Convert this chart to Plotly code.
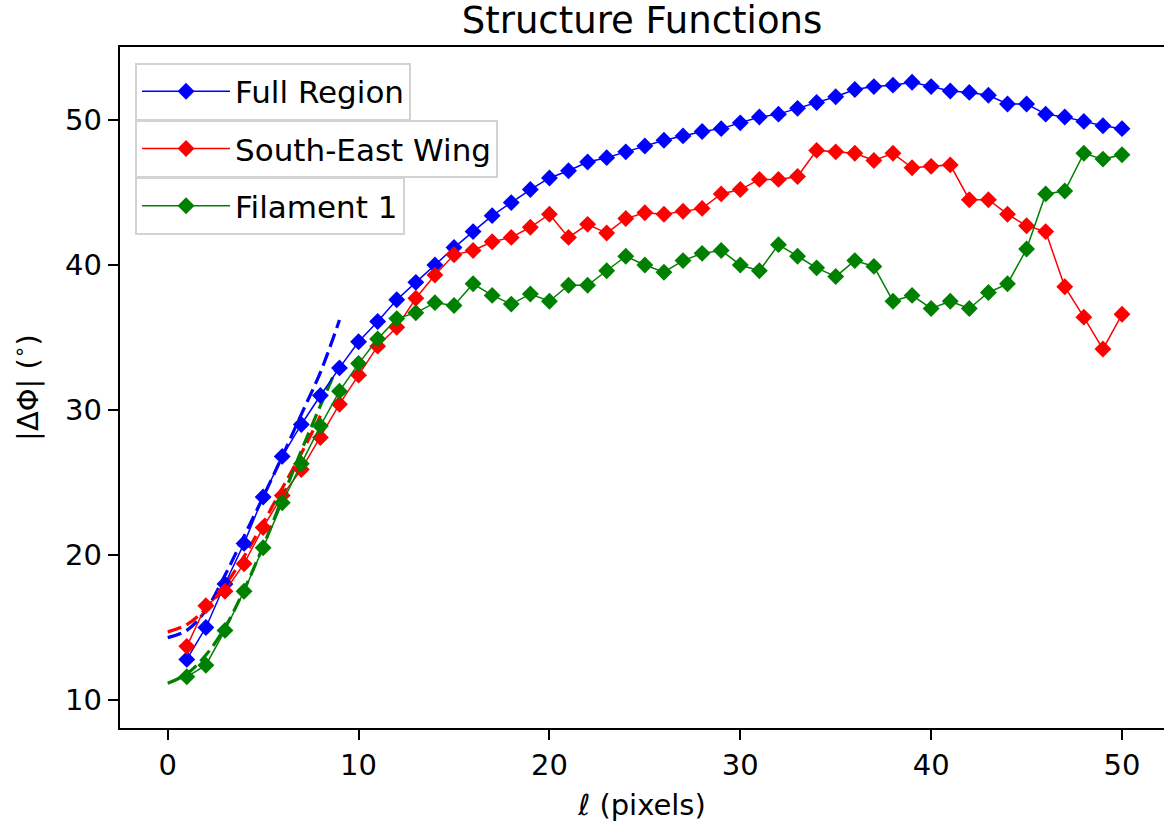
import plotly.graph_objects as go

# Lag values (pixels)
lags = list(range(1, 51))

full_region = [12.8, 15.0, 18.0, 20.8, 24.0, 26.8, 29.0, 31.0, 32.9, 34.7,
               36.1, 37.6, 38.8, 40.0, 41.2, 42.3, 43.4, 44.3, 45.2, 46.0,
               46.5, 47.1, 47.4, 47.8, 48.2, 48.6, 48.9, 49.2, 49.4, 49.8,
               50.2, 50.4, 50.8, 51.2, 51.6, 52.1, 52.3, 52.4, 52.6, 52.3,
               52.0, 51.9, 51.7, 51.1, 51.1, 50.4, 50.2, 49.9, 49.6, 49.4]

south_east_wing = [13.7, 16.5, 17.5, 19.4, 21.9, 24.1, 25.9, 28.1, 30.4, 32.4,
                   34.4, 35.7, 37.7, 39.3, 40.7, 41.0, 41.6, 41.9, 42.6, 43.5,
                   41.9, 42.8, 42.2, 43.2, 43.6, 43.5, 43.7, 43.9, 44.9, 45.2,
                   45.9, 45.9, 46.1, 47.9, 47.8, 47.7, 47.2, 47.7, 46.7, 46.8,
                   46.9, 44.5, 44.5, 43.5, 42.7, 42.3, 38.5, 36.4, 34.2, 36.6]

filament_1 = [11.6, 12.4, 14.8, 17.5, 20.5, 23.6, 26.3, 28.9, 31.3, 33.2,
              34.9, 36.3, 36.7, 37.4, 37.2, 38.7, 37.9, 37.3, 38.0, 37.5,
              38.6, 38.6, 39.6, 40.6, 40.0, 39.5, 40.3, 40.8, 41.0, 40.0,
              39.6, 41.4, 40.6, 39.8, 39.2, 40.3, 39.9, 37.5, 37.9, 37.0,
              37.5, 37.0, 38.1, 38.7, 41.1, 44.9, 45.1, 47.7, 47.3, 47.6]

# Small-lag fits
fit_lags_full = [0, 1, 2, 3, 4, 5, 6, 7, 8, 9]
fit_full = [14.3, 14.8, 16.2, 18.6, 21.3, 24.0, 26.8, 29.7, 32.6, 36.2]

fit_lags_sew = [0, 1, 2, 3, 4, 5, 6, 7, 8]
fit_sew = [14.7, 15.2, 16.3, 17.9, 19.9, 22.2, 24.6, 27.0, 29.6]

fit_lags_fil = [0, 1, 2, 3, 4, 5, 6, 7, 8, 9]
fit_fil = [11.15, 11.8, 13.1, 15.0, 17.6, 20.6, 23.9, 27.2, 30.3, 33.3]

x_ticks = [0, 10, 20, 30, 40, 50]
y_ticks = [10, 20, 30, 40, 50]

BLUE, RED, GREEN = "#0000ff", "#ff0000", "#008000"
FONT = "DejaVu Sans"

fig = go.Figure()

for fx, fy, col in [(fit_lags_full, fit_full, BLUE),
                    (fit_lags_sew, fit_sew, RED),
                    (fit_lags_fil, fit_fil, GREEN)]:
    fig.add_trace(go.Scatter(
        x=fx, y=fy, mode="lines", showlegend=False, hoverinfo="skip",
        line=dict(color=col, width=3.2, dash="14px,6px", shape="spline")))

series = [("Full Region", full_region, BLUE, "legend"),
          ("South-East Wing", south_east_wing, RED, "legend2"),
          ("Filament 1", filament_1, GREEN, "legend3")]

for name, vals, col, leg in series:
    fig.add_trace(go.Scatter(
        x=lags, y=vals, mode="lines+markers", name=name, legend=leg,
        line=dict(color=col, width=1.5),
        marker=dict(symbol="diamond", size=13, color=col, line=dict(width=0))))

legend_style = dict(
    xref="paper", yref="paper", xanchor="left", yanchor="top",
    bgcolor="rgba(255,255,255,0.8)", bordercolor="#d3d3d3", borderwidth=2,
    itemwidth=88,
    font=dict(family=FONT, size=31, color="#000000"),
)

fig.update_layout(
    width=1164, height=828,
    margin=dict(l=120, r=0, t=47, b=100),
    paper_bgcolor="white", plot_bgcolor="white",
    font=dict(family=FONT, size=29, color="#000000"),
    title=dict(text="Structure Functions", x=0.5, xref="paper", xanchor="center",
               y=1 - 20 / 828, yref="container", yanchor="middle",
               font=dict(family=FONT, size=37, color="#000000")),
    legend=dict(x=0.0144, y=0.977, **legend_style),
    legend2=dict(x=0.0144, y=0.893, **legend_style),
    legend3=dict(x=0.0144, y=0.809, **legend_style),
    xaxis=dict(
        range=[-2.5, 52.2], tickvals=x_ticks, ticktext=[str(v) for v in x_ticks],
        showgrid=False, zeroline=False, showline=True, linecolor="black",
        linewidth=2.4, mirror=True, ticks="outside", ticklen=10, tickwidth=2.4,
        tickcolor="black", tickfont=dict(family=FONT, size=29),
        title=dict(text="ℓ (pixels)", font=dict(family=FONT, size=29), standoff=14)),
    yaxis=dict(
        range=[8.07, 55.03], tickvals=y_ticks, ticktext=[str(v) for v in y_ticks],
        showgrid=False, zeroline=False, showline=True, linecolor="black",
        linewidth=2.4, mirror=False, ticks="outside", ticklen=10, tickwidth=2.4,
        tickcolor="black", tickfont=dict(family=FONT, size=29),
        title=dict(text="|ΔΦ| (<sup>∘</sup>)", font=dict(family=FONT, size=29), standoff=18)),
)

fig.write_html("out.html")
